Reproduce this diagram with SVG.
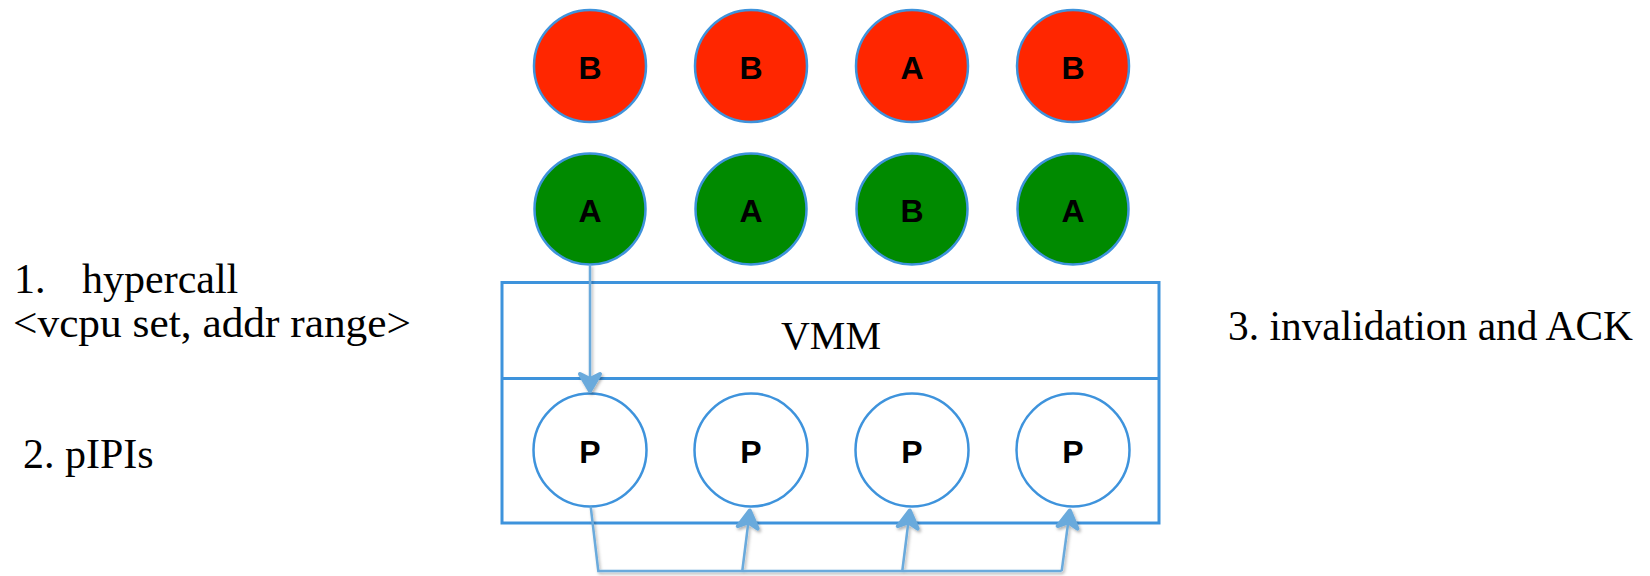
<svg xmlns="http://www.w3.org/2000/svg" width="1650" height="576" viewBox="0 0 1650 576">
<defs>
<style>
.red{fill:#FF2600;stroke:#3E93DC;stroke-width:2.5}
.green{fill:#008A00;stroke:#3E93DC;stroke-width:2.5}
.proc{fill:#FFFFFF;stroke:#3E93DC;stroke-width:2.5}
.lbl{font-family:"Liberation Sans",Arial,sans-serif;font-weight:bold;font-size:32px;fill:#000;text-anchor:middle}
.serif{font-family:"Liberation Serif","Times New Roman",serif;font-size:42px;fill:#000}
.conn{fill:none;stroke:#6AAADC;stroke-width:2.5}
</style>
<marker id="ah" markerUnits="userSpaceOnUse" markerWidth="30" markerHeight="30" refX="0" refY="0" orient="auto" overflow="visible">
<path d="M0,0 L-17,-10 L-12,0 L-17,10 Z" fill="#6AAADC" stroke="#6AAADC" stroke-width="4" stroke-linejoin="round"/>
</marker>
<filter id="sh" x="-20%" y="-20%" width="140%" height="140%">
<feDropShadow dx="1.5" dy="2" stdDeviation="1.5" flood-color="#000" flood-opacity="0.3"/>
</filter>
</defs>
<rect width="1650" height="576" fill="#FFFFFF"/>

<g id="vmm">
<rect x="502" y="282.5" width="657" height="240.5" fill="none" stroke="#3E93DC" stroke-width="3"/>
<line x1="502" y1="378.5" x2="1159" y2="378.5" stroke="#3E93DC" stroke-width="3"/>
<text x="831" y="349" font-family="'Liberation Serif','Times New Roman',serif" font-size="40" text-anchor="middle" fill="#000">VMM</text>
</g>

<g id="vcpu-red-1"><circle class="red" cx="590" cy="66" r="56"/><text class="lbl" x="590" y="79">B</text></g>
<g id="vcpu-red-2"><circle class="red" cx="751" cy="66" r="56"/><text class="lbl" x="751" y="79">B</text></g>
<g id="vcpu-red-3"><circle class="red" cx="912" cy="66" r="56"/><text class="lbl" x="912" y="79">A</text></g>
<g id="vcpu-red-4"><circle class="red" cx="1073" cy="66" r="56"/><text class="lbl" x="1073" y="79">B</text></g>

<g id="vcpu-green-1"><circle class="green" cx="590" cy="209" r="55.5"/><text class="lbl" x="590" y="222">A</text></g>
<g id="vcpu-green-2"><circle class="green" cx="751" cy="209" r="55.5"/><text class="lbl" x="751" y="222">A</text></g>
<g id="vcpu-green-3"><circle class="green" cx="912" cy="209" r="55.5"/><text class="lbl" x="912" y="222">B</text></g>
<g id="vcpu-green-4"><circle class="green" cx="1073" cy="209" r="55.5"/><text class="lbl" x="1073" y="222">A</text></g>

<g id="pcpu-1"><circle class="proc" cx="590" cy="450" r="56.5"/><text class="lbl" x="590" y="463">P</text></g>
<g id="pcpu-2"><circle class="proc" cx="751" cy="450" r="56.5"/><text class="lbl" x="751" y="463">P</text></g>
<g id="pcpu-3"><circle class="proc" cx="912" cy="450" r="56.5"/><text class="lbl" x="912" y="463">P</text></g>
<g id="pcpu-4"><circle class="proc" cx="1073" cy="450" r="56.5"/><text class="lbl" x="1073" y="463">P</text></g>

<g id="connectors" filter="url(#sh)">
<line class="conn" x1="590" y1="264.5" x2="590" y2="391" marker-end="url(#ah)"/>
<polyline class="conn" points="590.7,506.7 598.3,571 1061.7,571"/>
<line class="conn" x1="742.3" y1="571" x2="749.8" y2="510.5" marker-end="url(#ah)"/>
<line class="conn" x1="902.3" y1="571" x2="909.8" y2="510.5" marker-end="url(#ah)"/>
<line class="conn" x1="1061.7" y1="571" x2="1069.8" y2="510.5" marker-end="url(#ah)"/>
</g>

<g id="labels">
<text class="serif" x="14" y="293">1.</text>
<text class="serif" x="82" y="293">hypercall</text>
<text class="serif" x="13" y="337" textLength="398" lengthAdjust="spacingAndGlyphs">&lt;vcpu set, addr range&gt;</text>
<text class="serif" x="23" y="468">2. pIPIs</text>
<text class="serif" x="1228" y="340" textLength="405" lengthAdjust="spacingAndGlyphs">3. invalidation and ACK</text>
</g>
</svg>
